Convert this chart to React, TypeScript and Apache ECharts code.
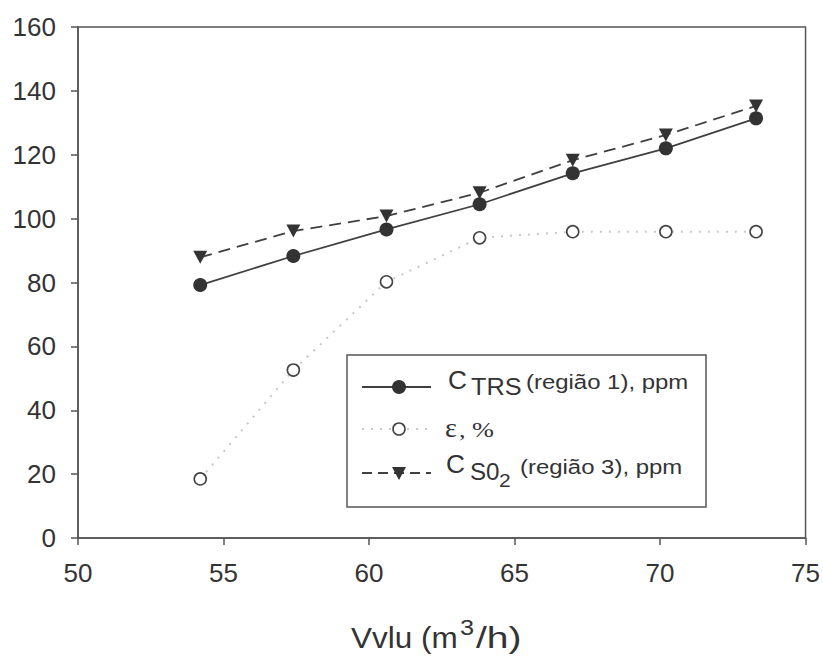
import React, { useEffect, useRef } from "react";
import * as echarts from "echarts";

const xValues = [54.2, 57.4, 60.6, 63.8, 67.0, 70.2, 73.3];
const cTRS = [79.2, 88.3, 96.6, 104.5, 114.2, 122.0, 131.4];
const epsilon = [18.5, 52.6, 80.2, 94.0, 95.9, 95.9, 95.9];
const cSO2 = [87.9, 96.1, 100.8, 108.1, 118.3, 126.2, 135.3];

const xTicks = { min: 50, max: 75, interval: 5 };
const yTicks = { min: 0, max: 160, interval: 20 };

const pair = (ys: number[]) => xValues.map((x, i) => [x, ys[i]]);

const SANS = "'Liberation Sans', Arial, sans-serif";
const SERIF = "'Liberation Serif', 'Times New Roman', serif";
const INK = "#333";

function txt(text: string, x: number, y: number, size: number, family: string, scaleX: number) {
  return {
    type: "text",
    x,
    y,
    scaleX,
    z: 102,
    silent: true,
    style: { text, x: 0, y: 0, fontSize: size, fontFamily: family, fill: INK, align: "left", verticalAlign: "middle" },
  };
}

export default function App() {
  const ref = useRef<HTMLDivElement>(null);
  useEffect(() => {
    if (!ref.current) return;
    const chart = echarts.init(ref.current, undefined, { renderer: "svg" });
    const axisLine = { show: true, lineStyle: { color: "#555", width: 1.5 } };
    const axisTick = { show: true, inside: false, length: 7, lineStyle: { color: "#555", width: 1.5 } };
    const legendRows = [387, 429, 473];
    chart.setOption({
      animation: false,
      backgroundColor: "#fff",
      grid: { left: 78, right: 17, top: 27, bottom: 118, show: true, borderColor: "#555", borderWidth: 1.5 },
      xAxis: {
        type: "value",
        min: xTicks.min,
        max: xTicks.max,
        interval: xTicks.interval,
        axisLine,
        axisTick,
        splitLine: { show: false },
        axisLabel: { color: INK, fontSize: 26, fontFamily: SANS, margin: 22 },
      },
      yAxis: {
        type: "value",
        min: yTicks.min,
        max: yTicks.max,
        interval: yTicks.interval,
        axisLine,
        axisTick,
        splitLine: { show: false },
        axisLabel: { color: INK, fontSize: 26, fontFamily: SANS, margin: 22 },
      },
      series: [
        {
          name: "CTRS (região 1), ppm",
          type: "line",
          data: pair(cTRS),
          symbol: "circle",
          symbolSize: 14,
          itemStyle: { color: "#333" },
          lineStyle: { color: "#404040", width: 1.8, type: "solid" },
          z: 4,
        },
        {
          name: "ε, %",
          type: "line",
          data: pair(epsilon),
          symbol: "circle",
          symbolSize: 12,
          itemStyle: { color: "#fff", borderColor: "#444", borderWidth: 1.6 },
          lineStyle: { color: "#c8c8c8", width: 2, type: [2, 7] },
          z: 3,
        },
        {
          name: "CSO2 (região 3), ppm",
          type: "line",
          data: pair(cSO2),
          symbol: "triangle",
          symbolRotate: 180,
          symbolSize: [14, 13],
          itemStyle: { color: "#333" },
          lineStyle: { color: "#404040", width: 1.8, type: [12, 7] },
          z: 5,
        },
      ],
      graphic: [
        {
          type: "rect",
          z: 100,
          silent: true,
          shape: { x: 347, y: 355, width: 359, height: 152 },
          style: { fill: "#fff", stroke: "#555", lineWidth: 1.5 },
        },
        {
          type: "line",
          z: 101,
          shape: { x1: 362, y1: legendRows[0], x2: 431, y2: legendRows[0] },
          style: { stroke: "#404040", lineWidth: 1.8 },
        },
        { type: "circle", z: 102, shape: { cx: 399, cy: legendRows[0], r: 7 }, style: { fill: "#333" } },
        {
          type: "line",
          z: 101,
          shape: { x1: 362, y1: legendRows[1], x2: 431, y2: legendRows[1] },
          style: { stroke: "#c8c8c8", lineWidth: 2, lineDash: [2, 7] },
        },
        {
          type: "circle",
          z: 102,
          shape: { cx: 399, cy: legendRows[1], r: 6 },
          style: { fill: "#fff", stroke: "#444", lineWidth: 1.6 },
        },
        {
          type: "line",
          z: 101,
          shape: { x1: 362, y1: legendRows[2], x2: 431, y2: legendRows[2] },
          style: { stroke: "#404040", lineWidth: 1.8, lineDash: [10, 6] },
        },
        {
          type: "polygon",
          z: 102,
          shape: { points: [[392, 467], [406, 467], [399, 480]] },
          style: { fill: "#333" },
        },
        txt("C", 448, 380, 25, SANS, 1.05),
        txt("TRS", 471, 387, 23, SANS, 1.1),
        txt("(região 1), ppm", 526, 382, 21, SANS, 1.14),
        txt("ε", 445, 428, 27, SERIF, 1.05),
        txt(", %", 459, 429.5, 21, SERIF, 1.25),
        txt("C", 446, 464.5, 25, SANS, 1.05),
        txt("S0", 470, 472, 23, SANS, 1.05),
        txt("2", 499, 480, 19, SANS, 1.1),
        txt("(região 3), ppm", 520, 467.5, 21, SANS, 1.14),
        txt("Vvlu (m", 351, 637.8, 30, SANS, 1.05),
        txt("3", 460, 627.5, 22, SANS, 1.15),
        txt("/h)", 476, 637.8, 30, SANS, 1.3),
      ],
    });
    return () => chart.dispose();
  }, []);
  return <div ref={ref} style={{ width: 823, height: 656, position: "absolute", left: 0, top: 0 }} />;
}
